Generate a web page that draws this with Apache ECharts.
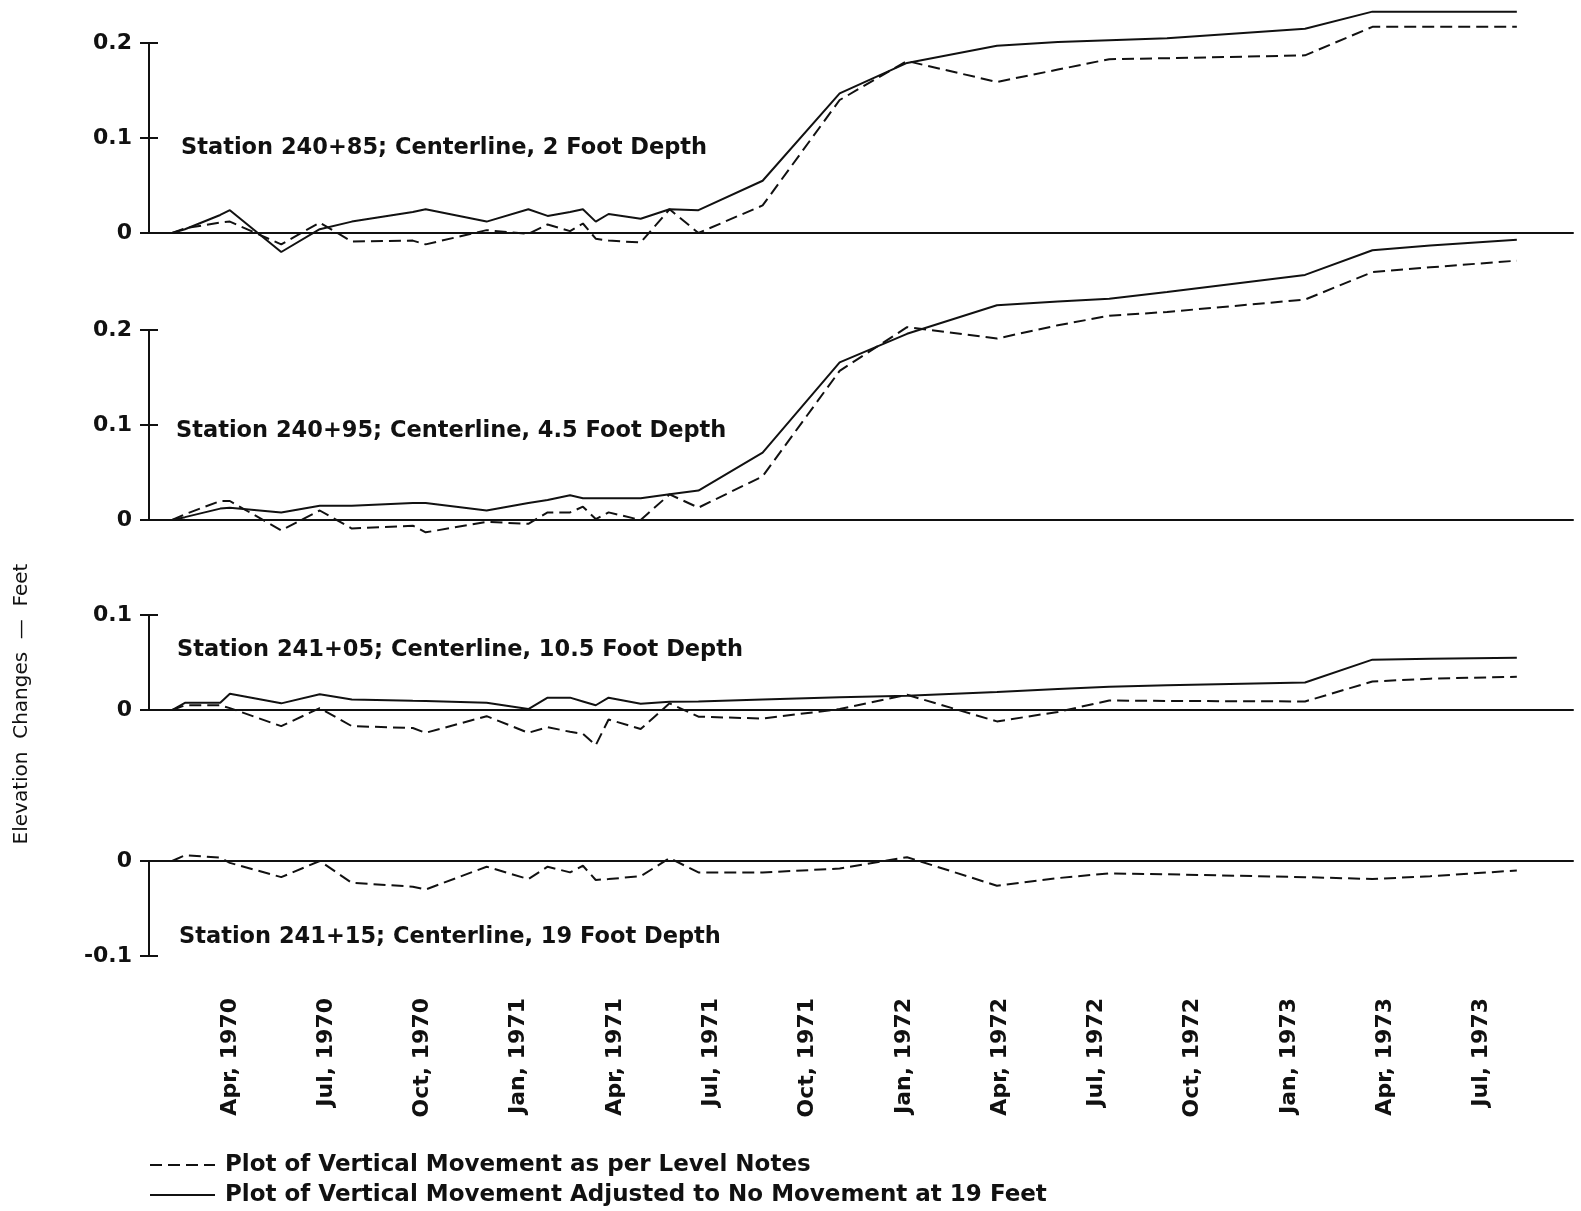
<!DOCTYPE html>
<html>
<head>
<meta charset="utf-8">
<title>Elevation changes</title>
<script src="https://cdn.jsdelivr.net/npm/echarts@6/dist/echarts.min.js"></script>
<style>
  html, body { margin: 0; padding: 0; background: #fff; }
  #chart { width: 1581px; height: 1211px; }
</style>
</head>
<body>
<div id="chart"></div>
<script>
// survey dates, in months counted from Jan 1970 (3 = Apr 1970)
const surveyMonths = [1.2, 1.6, 2.7, 3.0, 4.6, 5.8, 6.8, 8.7, 9.1, 11.0, 12.3, 12.9, 13.6, 14.0, 14.4,
  14.8, 15.8, 16.7, 17.6, 19.6, 22.0, 24.1, 26.9, 28.8, 30.4, 32.2, 36.5, 38.6, 40.4, 43.1];

const tickMonths = [3, 6, 9, 12, 15, 18, 21, 24, 27, 30, 33, 36, 39, 42];
const tickLabels = ['Apr, 1970', 'Jul, 1970', 'Oct, 1970', 'Jan, 1971', 'Apr, 1971', 'Jul, 1971', 'Oct, 1971',
  'Jan, 1972', 'Apr, 1972', 'Jul, 1972', 'Oct, 1972', 'Jan, 1973', 'Apr, 1973', 'Jul, 1973'];

// Station 240+85, 2 ft
const st24085Level = [0.0, 0.005, 0.011, 0.012, -0.012, 0.011, -0.009, -0.008, -0.012, 0.003, -0.001, 0.009, 0.002, 0.010, -0.006,
  -0.008, -0.010, 0.025, 0.0, 0.029, 0.140, 0.181, 0.159, 0.172, 0.183, 0.184, 0.187, 0.217, 0.217, 0.217];
const st24085Adjusted = [0.0, 0.004, 0.019, 0.024, -0.020, 0.004, 0.012, 0.022, 0.025, 0.012, 0.025, 0.018, 0.022, 0.025, 0.012,
  0.020, 0.015, 0.025, 0.024, 0.055, 0.147, 0.179, 0.197, 0.201, 0.203, 0.205, 0.215, 0.233, 0.233, 0.233];

// Station 240+95, 4.5 ft
const st24095Level = [0.0, 0.006, 0.020, 0.020, -0.011, 0.010, -0.009, -0.006, -0.013, -0.002, -0.004, 0.008, 0.008, 0.014, 0.001,
  0.008, 0.0, 0.027, 0.013, 0.046, 0.157, 0.203, 0.191, 0.205, 0.215, 0.219, 0.232, 0.261, 0.266, 0.273];
const st24095Adjusted = [0.0, 0.003, 0.012, 0.013, 0.008, 0.015, 0.015, 0.018, 0.018, 0.010, 0.018, 0.021, 0.026, 0.023, 0.023,
  0.023, 0.023, 0.027, 0.031, 0.071, 0.166, 0.196, 0.226, 0.230, 0.233, 0.240, 0.258, 0.284, 0.289, 0.295];

// Station 241+05, 10.5 ft
const st24105Level = [0.0, 0.005, 0.005, 0.002, -0.017, 0.002, -0.017, -0.019, -0.024, -0.0065, -0.024, -0.018, -0.023, -0.025, -0.037,
  -0.010, -0.020, 0.007, -0.007, -0.009, 0.001, 0.016, -0.012, -0.002, 0.010, 0.0095, 0.009, 0.030, 0.033, 0.035];
const st24105Adjusted = [0.0, 0.0076, 0.0076, 0.017, 0.007, 0.0165, 0.011, 0.0097, 0.0095, 0.0077, 0.001, 0.013, 0.013, 0.009, 0.005,
  0.013, 0.0065, 0.0086, 0.009, 0.011, 0.0135, 0.015, 0.019, 0.022, 0.0245, 0.026, 0.029, 0.053, 0.054, 0.055];

// Station 241+15, 19 ft
const st24115Level = [0.0, 0.006, 0.0035, -0.002, -0.017, 0.0, -0.023, -0.027, -0.030, -0.006, -0.019, -0.006, -0.012, -0.005, -0.020,
  -0.019, -0.016, 0.003, -0.012, -0.012, -0.008, 0.004, -0.026, -0.018, -0.013, -0.014, -0.017, -0.019, -0.016, -0.010];
const st24115Adjusted = [0, 0, 0, 0, 0, 0, 0, 0, 0, 0, 0, 0, 0, 0, 0,
  0, 0, 0, 0, 0, 0, 0, 0, 0, 0, 0, 0, 0, 0, 0];

const stationTitles = [
  'Station 240+85; Centerline, 2 Foot Depth',
  'Station 240+95; Centerline, 4.5 Foot Depth',
  'Station 241+05; Centerline, 10.5 Foot Depth',
  'Station 241+15; Centerline, 19 Foot Depth',
];

const DASHED_NAME = 'Plot of Vertical Movement as per Level Notes';
const SOLID_NAME = 'Plot of Vertical Movement Adjusted to No Movement at 19 Feet';

const FONT = 'DejaVu Sans';
const INK = '#111';
const X_MIN = 0.48;
const X_MAX = 44.85;
const GRID_LEFT = 149;
const GRID_RIGHT = 8;

const panels = [
  { top: 43, height: 190, min: 0, max: 0.2, level: st24085Level, adjusted: st24085Adjusted, titleX: 181, titleY: 148 },
  { top: 330, height: 190, min: 0, max: 0.2, level: st24095Level, adjusted: st24095Adjusted, titleX: 176, titleY: 431 },
  { top: 615, height: 95, min: 0, max: 0.1, level: st24105Level, adjusted: st24105Adjusted, titleX: 177, titleY: 650 },
  { top: 861, height: 95, min: -0.1, max: 0, level: st24115Level, adjusted: st24115Adjusted, titleX: 179, titleY: 937 },
];

const toPoints = (values) => surveyMonths.map((m, i) => [m, values[i]]);

const grid = [];
const xAxis = [];
const yAxis = [];
const series = [];
const graphic = [];

panels.forEach((p, i) => {
  grid.push({ left: GRID_LEFT, right: GRID_RIGHT, top: p.top, height: p.height });
  xAxis.push({
    type: 'value',
    gridIndex: i,
    min: X_MIN,
    max: X_MAX,
    axisLine: { show: true, onZero: true, onZeroAxisIndex: i * 2, lineStyle: { color: INK, width: 2 } },
    axisTick: { show: false },
    axisLabel: { show: false },
    splitLine: { show: false },
  });
  // main axis: line, labels, outer ticks
  yAxis.push({
    type: 'value',
    gridIndex: i,
    position: 'left',
    min: p.min,
    max: p.max,
    interval: 0.1,
    axisLine: { show: true, lineStyle: { color: INK, width: 2 } },
    axisTick: { show: true, length: 9, lineStyle: { color: INK, width: 2 } },
    axisLabel: {
      margin: 17,
      color: INK,
      fontFamily: FONT,
      fontWeight: 'bold',
      fontSize: 22,
      formatter: (v) => (Math.abs(v) < 1e-9 ? '0' : v.toFixed(1)),
    },
    splitLine: { show: false },
  });
  // twin axis only for the inner half of the crossing ticks
  yAxis.push({
    type: 'value',
    gridIndex: i,
    position: 'left',
    offset: 0,
    min: p.min,
    max: p.max,
    interval: 0.1,
    axisLine: { show: false },
    axisTick: { show: true, inside: true, length: 9, lineStyle: { color: INK, width: 2 } },
    axisLabel: { show: false },
    splitLine: { show: false },
  });
  series.push({
    name: DASHED_NAME,
    type: 'line',
    xAxisIndex: i,
    yAxisIndex: i * 2,
    data: toPoints(p.level),
    symbol: 'none',
    clip: false,
    lineStyle: { color: INK, width: 2, type: [12, 6] },
    itemStyle: { color: INK },
  });
  series.push({
    name: SOLID_NAME,
    type: 'line',
    xAxisIndex: i,
    yAxisIndex: i * 2,
    data: toPoints(p.adjusted),
    symbol: 'none',
    clip: false,
    lineStyle: { color: INK, width: 2, type: 'solid' },
    itemStyle: { color: INK },
  });
  graphic.push({
    type: 'text',
    x: p.titleX,
    y: p.titleY,
    style: {
      text: stationTitles[i],
      fill: INK,
      font: `bold 22.5px "${FONT}"`,
      verticalAlign: 'middle',
    },
  });
});

// extra grid that only carries the rotated date labels
grid.push({ left: GRID_LEFT, right: GRID_RIGHT, top: 960, height: 20 });
xAxis.push({
  type: 'value',
  gridIndex: 4,
  min: X_MIN,
  max: X_MAX,
  axisLine: { show: false },
  axisTick: { show: false },
  splitLine: { show: false },
  axisLabel: {
    customValues: tickMonths,
    rotate: 90,
    margin: 18,
    color: INK,
    fontFamily: FONT,
    fontWeight: 'bold',
    fontSize: 22,
    formatter: (v) => tickLabels[tickMonths.indexOf(v)] || '',
  },
});
yAxis.push({ type: 'value', gridIndex: 4, show: false });

graphic.push({
  type: 'text',
  x: 22,
  y: 704,
  rotation: Math.PI / 2,
  style: {
    text: 'Elevation  Changes  —  Feet',
    fill: INK,
    font: `20px "${FONT}"`,
    align: 'center',
    verticalAlign: 'middle',
  },
});

const chart = echarts.init(document.getElementById('chart'), null, { renderer: 'canvas' });
chart.setOption({
  animation: false,
  backgroundColor: '#fff',
  grid,
  xAxis,
  yAxis,
  series,
  graphic,
  legend: {
    orient: 'vertical',
    left: GRID_LEFT,
    top: 1153,
    padding: 0,
    itemWidth: 65,
    itemHeight: 14,
    itemGap: 6,
    selectedMode: false,
    data: [DASHED_NAME, SOLID_NAME],
    itemStyle: { opacity: 0 },
    textStyle: { color: INK, fontFamily: FONT, fontWeight: 'bold', fontSize: 23, lineHeight: 24, padding: [0, 0, 0, 5] },
  },
});
</script>
</body>
</html>
